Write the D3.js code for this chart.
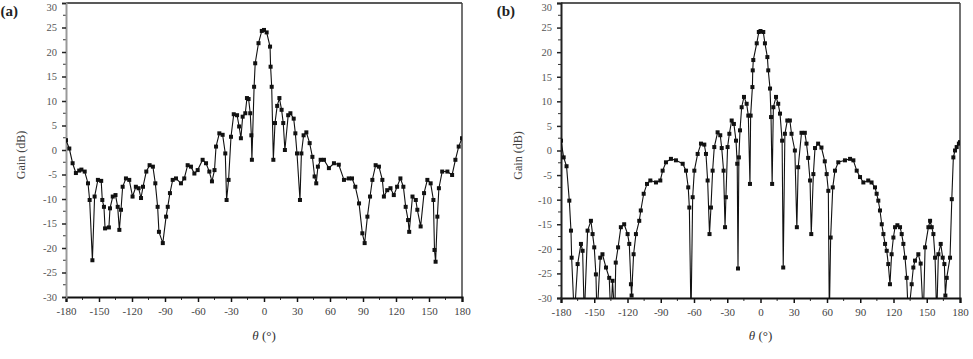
<!DOCTYPE html>
<html>
<head>
<meta charset="utf-8">
<script src="https://cdn.jsdelivr.net/npm/d3@7"></script>
<style>
  html, body { margin: 0; padding: 0; background: #fff; }
  svg { display: block; }
  text { font-family: "Liberation Serif", "DejaVu Serif", serif; }
</style>
</head>
<body>
<svg id="chart" width="973" height="359"></svg>
<script>
// ---------- data ----------
const thetaA = [-180,-177,-174,-171,-168,-166,-163,-160,-158.5,-156,-154,-151,-148,-147,-145.5,-144.5,-141,-140,-137.5,-135,-133,-131.5,-130,-128.5,-125.5,-122.5,-119.5,-116.5,-114,-111.8,-110,-107,-104,-101,-98.8,-96.7,-95.5,-92,-89,-87.5,-85.5,-83,-80,-75.5,-72.5,-69.4,-66.4,-63.3,-60.3,-55.8,-52.7,-49.7,-47.3,-45,-43.6,-40.6,-37.6,-35.2,-34,-32.2,-30,-27.5,-24.5,-22.6,-21,-19.4,-17,-15.5,-14,-12.5,-11.5,-11,-9,-8,-5,-2,0,2.4,5.5,6,7,8.5,10,12,14,16,17.5,19,22,24,27,28.5,30,32.7,34,36,38.5,41.5,44,46,47.5,49,51.5,54.5,59,63.6,68,72.7,77,80,83,86.4,89.4,91.5,94,96.4,98.5,101.5,104.5,107.6,109,112,115,118,121,124,126.7,128.8,131,132,135,138,139.4,142.4,145.5,148.5,151.5,154,155,156,157.6,159,162,166.7,171,174,177,180];
const gainA = [2.0,0.3,-2.7,-4.7,-4.2,-4.0,-4.4,-6.8,-10.2,-22.5,-9.5,-6.1,-6.3,-10.2,-11.6,-16,-15.8,-11.9,-9.5,-9.2,-11.6,-16.3,-12.2,-7.5,-5.8,-6.1,-9.5,-7.5,-7.8,-9.8,-7.5,-4.4,-3.1,-3.4,-6.8,-11.6,-16.7,-19.0,-13.6,-11.6,-8.8,-6.1,-5.8,-6.8,-5.8,-3.1,-3.4,-4.8,-4.1,-2.0,-2.7,-4.4,-6.4,-4.1,0.7,3.4,3.1,-0.7,-10.2,-6.1,2.7,7.3,7.1,4.8,2.4,6.8,7.5,10.6,10.4,7.5,3.0,-2.0,12.9,17.7,21.8,24.3,24.5,24.0,21.1,17.0,12.9,-2.0,5.5,9.0,10.6,8.2,5.5,0.0,7.1,7.5,6.4,3.4,-0.7,-10.2,-0.7,3.0,3.6,1.4,-1.4,-5.4,-6.8,-3.4,-2.0,-2.0,-3.7,-2.7,-3.0,-6.1,-5.8,-5.8,-7.5,-10.9,-17,-19,-13.6,-9.5,-6.1,-3.1,-3.4,-6.1,-9.5,-8.2,-7.8,-9.2,-7.5,-5.8,-7.5,-11.6,-14.3,-16.7,-9.5,-10.2,-12.2,-15.6,-8.8,-6.1,-6.8,-10.2,-20.4,-22.8,-13.6,-7.8,-4.4,-4.4,-5.1,-2.0,0.7,2.4];

const thetaB = [-180,-177.6,-175,-172.5,-171,-170.4,-168,-165,-162,-160.5,-159,-156,-153,-151.5,-150,-148.5,-147.5,-144.6,-142.6,-139.4,-136.5,-135,-133.5,-131.5,-130.6,-128.5,-126,-123,-119.9,-118.4,-116.9,-116.3,-114.5,-112.4,-109.4,-108,-105.4,-102.4,-99.4,-94.3,-90.4,-88.3,-85.3,-80.8,-76.3,-70.2,-67.2,-65.2,-64.2,-62.7,-61.2,-59.7,-56.7,-53.7,-50.7,-49.2,-47.7,-46,-44.7,-43.2,-41.7,-38.7,-36.3,-35,-33.3,-32,-31.2,-29.7,-28.1,-26,-24,-22.1,-21,-20.3,-19.5,-18.5,-17,-14.9,-12.5,-11,-9.5,-8.9,-7.3,-7,-6.5,-3.4,-1.5,0,2.5,4,6.2,7,8.6,9.5,10.5,11.6,14,16,17.6,19.5,20.5,22,24.2,26.5,28,31,32.8,34,37,40,41.5,43,44.7,45.8,47.7,49.2,52,55,58,59.7,61.2,62.1,63.3,65.2,67.2,70.2,76.2,80.8,83.8,86.8,89.8,92.8,97.2,100.2,103.3,104.8,106.3,107.8,109.4,110.9,112.4,113.9,115.3,116.8,118.3,119.9,121.4,123.5,125.9,127.4,128.9,130.4,131.9,133.4,136.4,137.9,139.4,142.4,144.5,146.9,148.5,151.5,153,154.5,156,157.5,159,160.5,162.6,164.4,165.9,166.8,168,171,172.6,174,175.5,177,179,180];
const gainB = [2.0,-1.4,-3.2,-10.2,-16.3,-21.8,-34,-23.1,-19.0,-20.4,-34,-16.3,-14.3,-17,-19.7,-25.2,-34,-21.8,-21.1,-23.8,-25.9,-34,-26.5,-34,-22.8,-19.7,-15.6,-15.0,-17.0,-19.0,-27.2,-29.5,-21.1,-17.0,-14.3,-12.2,-8.8,-6.8,-6.1,-6.5,-6.1,-4.1,-2.4,-1.7,-2.0,-2.7,-4.1,-7.5,-11.6,-34,-9.5,-4.1,-0.7,1.4,1.2,-0.7,-6.1,-17,-11.6,-4.1,0.7,3.7,3.1,0.5,-4.1,-15.6,-9.5,0.7,3.4,6.1,5.4,2.0,-2.7,-24,-1.4,4.1,8.8,10.9,9.5,7.1,-6.8,7.1,12.9,16.3,18.4,21.8,24.1,24.3,24.1,21.8,19.0,16.3,12.6,6.8,-6.8,8.8,10.9,9.5,7.5,2.0,-23.8,3.4,6.1,6.1,3.4,0.0,-15.6,-3.4,3.6,3.6,1.4,-1.5,-6.1,-17,-4.8,0.5,1.4,0.6,-2.2,-4.8,-8.2,-34,-17.7,-7.5,-4.1,-2.4,-2.0,-1.7,-2.0,-4.1,-5.4,-6.5,-6.1,-6.5,-7.5,-8.8,-10.2,-12.2,-15,-17,-19,-20.4,-23.1,-27.2,-21.1,-17.7,-15.6,-15.2,-15.6,-17,-19,-21.8,-25.9,-34,-27.2,-23.8,-22.4,-21.1,-23,-34,-19.7,-15.6,-14.3,-15.6,-17,-21.8,-34,-21.1,-19,-21.8,-23.1,-29.5,-25.9,-21.8,-9.9,-1.4,0,0.7,1.4,1.7];

const xTicks = [-180,-150,-120,-90,-60,-30,0,30,60,90,120,150,180];
const yTicks = [-30,-25,-20,-15,-10,-5,0,5,10,15,20,25,30];
const panelLabels = ["(a)", "(b)"];
const yTitle = "Gain (dB)";

// ---------- drawing ----------
const svg = d3.select("#chart");

const panels = [
  {theta: thetaA, gain: gainA, x0: 66, x1: 462, y0: 3, y1: 297, label: panelLabels[0], labelX: 18, yTitleX: 25, leftColor: "#999"},
  {theta: thetaB, gain: gainB, x0: 561, x1: 960, y0: 3, y1: 298, label: panelLabels[1], labelX: 515, yTitleX: 522, leftColor: "#222"}
];

panels.forEach((p, i) => {
  const x = d3.scaleLinear().domain([-180, 180]).range([p.x0, p.x1]);
  const y = d3.scaleLinear().domain([-30, 30]).range([p.y1, p.y0]);
  const g = svg.append("g");

  const clipId = "clip" + i;
  svg.append("defs").append("clipPath").attr("id", clipId)
    .append("rect").attr("x", p.x0).attr("y", p.y0).attr("width", p.x1 - p.x0).attr("height", p.y1 - p.y0);

  // frame top & right
  g.append("line").attr("x1", p.x0).attr("x2", p.x1).attr("y1", p.y0).attr("y2", p.y0)
    .attr("stroke", "#222").attr("stroke-width", 1.5);
  g.append("line").attr("x1", p.x1).attr("x2", p.x1).attr("y1", p.y0).attr("y2", p.y1)
    .attr("stroke", "#444").attr("stroke-width", 1.5);

  // minor ticks
  const xMinor = d3.range(-165, 180, 30);
  const yMinor = d3.range(-27.5, 30, 5);
  g.selectAll(".xm").data(xMinor).join("line")
    .attr("x1", d => x(d)).attr("x2", d => x(d)).attr("y1", p.y1).attr("y2", p.y1 + 3)
    .attr("stroke", "#333").attr("stroke-width", 1);
  g.selectAll(".ym").data(yMinor).join("line")
    .attr("x1", p.x0 - 3).attr("x2", p.x0).attr("y1", d => y(d)).attr("y2", d => y(d))
    .attr("stroke", "#333").attr("stroke-width", 1);

  // axes
  const xAxis = d3.axisBottom(x).tickValues(xTicks).tickSize(5).tickPadding(5)
    .tickFormat(d => d < 0 ? "-" + Math.abs(d) : d);
  const gx = g.append("g").attr("transform", `translate(0,${p.y1})`).call(xAxis);
  gx.select(".domain").attr("stroke", "#111").attr("stroke-width", 2.2);
  gx.selectAll(".tick line").attr("stroke", "#111").attr("stroke-width", 1.5);
  gx.selectAll("text").attr("font-size", 11).attr("fill", "#444")
    .attr("font-family", "Liberation Serif, serif");

  const yAxis = d3.axisLeft(y).tickValues(yTicks).tickSize(4).tickPadding(5)
    .tickFormat(d => d < 0 ? "-" + Math.abs(d) : d);
  const gy = g.append("g").attr("transform", `translate(${p.x0},0)`).call(yAxis);
  gy.select(".domain").attr("stroke", p.leftColor).attr("stroke-width", 2);
  gy.selectAll(".tick line").attr("stroke", "#222").attr("stroke-width", 1.5);
  gy.selectAll("text").attr("font-size", 10.5).attr("fill", "#555")
    .attr("font-family", "Liberation Serif, serif")
    .attr("dy", d => d === 30 ? "0.75em" : "0.32em");

  // data line
  const pts = p.theta.map((t, k) => [t, p.gain[k]]);
  const line = d3.line().x(d => x(d[0])).y(d => y(d[1]));
  const plot = g.append("g").attr("clip-path", `url(#${clipId})`);
  plot.append("path").datum(pts).attr("d", line)
    .attr("fill", "none").attr("stroke", "#111").attr("stroke-width", 1.1);
  plot.selectAll("rect.m").data(pts.filter(d => d[1] > -30)).join("rect")
    .attr("class", "m")
    .attr("x", d => x(d[0]) - 2).attr("y", d => y(d[1]) - 2)
    .attr("width", 4).attr("height", 4).attr("fill", "#111");

  // titles
  g.append("text").attr("transform", `translate(${p.yTitleX},${(p.y0 + p.y1) / 2 + 5}) rotate(-90)`)
    .attr("text-anchor", "middle").attr("font-size", 12).attr("fill", "#444").text(yTitle);

  const xt = g.append("text").attr("x", x(0)).attr("y", 340)
    .attr("text-anchor", "middle").attr("font-size", 13).attr("fill", "#333");
  xt.append("tspan").attr("font-style", "italic").text("θ");
  xt.append("tspan").text(" (°)");

  g.append("text").attr("x", p.labelX).attr("y", 16).attr("text-anchor", "end")
    .attr("font-size", 15).attr("font-weight", "bold").attr("fill", "#222").text(p.label);
});
</script>
</body>
</html>
